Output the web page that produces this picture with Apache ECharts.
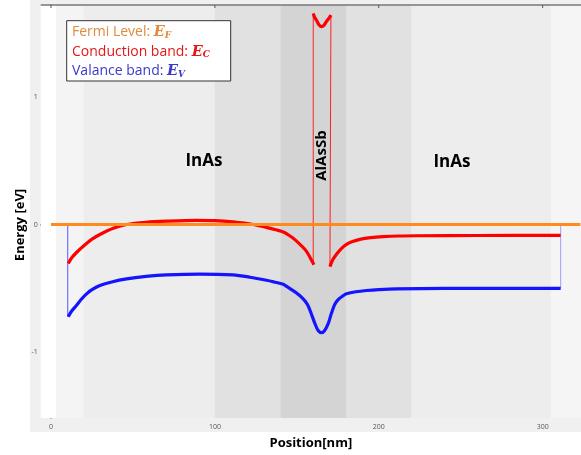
<!DOCTYPE html>
<html><head><meta charset="utf-8">
<script src="https://cdn.jsdelivr.net/npm/echarts@6/dist/echarts.min.js"></script>
<style>html,body{margin:0;padding:0;background:#fff}#c{width:581px;height:455px}</style>
</head><body><div id="c"></div>
<script>
// ---- data ----
const xTicks = [0, 100, 200, 300];
const yTicks = [-1, 0, 1];
const fermiX = [0, 323];
const fermiE = [0, 0];
const ecLeftX = [10.5, 13, 17.6, 22, 25, 29.8, 38, 46.1, 58, 70.5, 88.8, 100, 111, 123.4, 133, 141.7, 147, 151.9, 155, 157, 159, 160.4];
const ecLeftE = [-0.305, -0.255, -0.194, -0.145, -0.115, -0.078, -0.03, 0, 0.018, 0.026, 0.032, 0.03, 0.02, 0, -0.028, -0.058, -0.1, -0.155, -0.195, -0.233, -0.28, -0.315];
const ecBarrierX = [160, 161, 162, 163.5, 165.1, 166.5, 168, 169.5, 170.8];
const ecBarrierE = [1.654, 1.62, 1.6, 1.565, 1.55, 1.56, 1.59, 1.615, 1.641];
const ecRightX = [170.2, 172, 174.2, 177, 180.3, 184, 188.5, 195, 202.7, 212, 223, 260, 311];
const ecRightE = [-0.33, -0.275, -0.233, -0.19, -0.155, -0.133, -0.116, -0.103, -0.095, -0.09, -0.088, -0.086, -0.085];
const evX = [10.5, 12.5, 15.6, 18.5, 21.7, 25, 29.8, 37, 46.1, 58, 70.5, 90.9, 111, 121.4, 131.5, 136, 141.7, 144, 147, 150, 152.5, 155, 157, 159, 161, 163, 165.1, 167, 169.2, 171, 173.2, 175.5, 178, 180.3, 186, 192.5, 200, 210.8, 240, 311];
const evE = [-0.723, -0.68, -0.633, -0.585, -0.543, -0.51, -0.478, -0.45, -0.426, -0.407, -0.395, -0.388, -0.395, -0.413, -0.437, -0.45, -0.468, -0.487, -0.512, -0.538, -0.565, -0.6, -0.64, -0.705, -0.775, -0.83, -0.847, -0.83, -0.775, -0.7, -0.625, -0.585, -0.56, -0.543, -0.527, -0.517, -0.51, -0.504, -0.501, -0.5];
// thin jump connectors
const ecJumpL = [[160, -0.315], [160, 1.654]];
const ecJumpR = [[170.2, -0.33], [170.8, 1.641]];
const evJumpL = [[10.2, 0], [10.2, -0.723]];
const evJumpR = [[311, 0], [311, -0.5]];
// mesh / material regions [from, to, shade]
const regions = [
  [-6.3, 3, '#ffffff'],
  [3, 20, '#f4f4f4'],
  [20, 100, '#ededed'],
  [100, 140, '#e1e1e1'],
  [140, 180, '#d4d4d4'],
  [180, 220, '#e1e1e1'],
  [220, 305, '#ededed'],
  [305, 323.4, '#f5f5f5']
];
const regionLabels = [
  {name: 'InAs', x: 93.3, e: 0.494, rot: 0},
  {name: 'AlAsSb', x: 165.1, e: 0.54, rot: 90},
  {name: 'InAs', x: 244.6, e: 0.488, rot: 0}
];
const zip = (xs, ys) => xs.map((x, i) => [x, ys[i]]);

const chart = echarts.init(document.getElementById('c'), null, {renderer: 'canvas'});
const thin = (d, c, o) => ({type: 'line', data: d, symbol: 'none', lineStyle: {color: c, width: 1, opacity: o || 1}, z: 3, silent: true});
const thick = (d, c) => ({type: 'line', data: d, symbol: 'none', smooth: 0.3, lineStyle: {color: c, width: 3.2}, z: 4, silent: true});
const rs = (c, k) => {
  const base = {fill: c, lineHeight: 19.5};
  if (k === 't') return Object.assign(base, {fontSize: 14, fontFamily: 'Open Sans'});
  if (k === 'e') return Object.assign(base, {fontSize: 14.5, fontFamily: 'DejaVu Serif', fontStyle: 'italic', fontWeight: 'bold'});
  return Object.assign(base, {fontSize: 9, fontFamily: 'DejaVu Serif', fontStyle: 'italic', fontWeight: 'bold', padding: [6, 0, 0, 0]});
};

chart.setOption({
  animation: false,
  grid: {left: 40.7, right: 0, top: 5, bottom: 455 - 422.3, containLabel: false},
  graphic: [
    {type: 'rect', z: -10, silent: true, shape: {x: 30, y: 0, width: 551, height: 432}, style: {fill: '#f0f0f0'}},
    {type: 'rect', z: 100, shape: {x: 66.7, y: 20.7, width: 164, height: 60.3}, style: {fill: '#fff', stroke: '#333', lineWidth: 1}},
    {type: 'text', z: 101, left: 72, top: 25, style: {
      text: '{a|Fermi Level: }{e|E}{s|F}\n{b|Conduction band: }{eb|E}{sb|C}\n{c|Valance band: }{ec|E}{sc|V}',
      rich: {
        a: rs('#e08a3c', 't'), e: rs('#e08a3c', 'e'), s: rs('#e08a3c', 's'),
        b: rs('#e81515', 't'), eb: rs('#e81515', 'e'), sb: rs('#e81515', 's'),
        c: rs('#3a3ac8', 't'), ec: rs('#3a3ac8', 'e'), sc: rs('#3a3ac8', 's')
      }
    }},
    {type: 'text', z: 50, x: 20, y: 225, rotation: Math.PI / 2, style: {text: 'Energy [eV]', fill: '#000', fontSize: 13, fontWeight: 'bold', fontFamily: 'Open Sans', align: 'center', verticalAlign: 'middle'}}
  ],
  xAxis: {
    type: 'value', min: -6.3, max: 323.4,
    name: 'Position[nm]', nameLocation: 'middle', nameGap: 19,
    nameTextStyle: {fontSize: 13, fontWeight: 'bold', fontFamily: 'Open Sans', color: '#000'},
    axisLine: {show: true, lineStyle: {color: '#666', width: 1.5}},
    axisTick: {show: true, inside: true, length: 3, customValues: xTicks, lineStyle: {color: '#555'}},
    axisLabel: {customValues: xTicks, fontSize: 7, color: '#555', margin: 5, fontFamily: 'Open Sans'},
    splitLine: {show: false}
  },
  yAxis: {
    type: 'value', min: -1.516, max: 1.72,
    axisLine: {show: true, lineStyle: {color: '#666', width: 1.5}},
    axisTick: {show: true, inside: false, length: 2, customValues: yTicks, lineStyle: {color: '#555'}},
    axisLabel: {customValues: yTicks, fontSize: 7, color: '#555', margin: 3, fontFamily: 'Open Sans'},
    splitLine: {show: false}
  },
  series: [
    {type: 'line', data: zip(fermiX, fermiE), symbol: 'none', lineStyle: {color: '#ff8a1e', width: 3}, z: 5, silent: true,
     markArea: {silent: true, z: 1, data: regions.map(r => [{xAxis: r[0], itemStyle: {color: r[2]}}, {xAxis: r[1]}])}},
    thin(ecJumpL, '#ff2020'), thin(ecJumpR, '#ff2020'),
    thin(evJumpL, '#3030ff', 0.8), thin(evJumpR, '#6060ff', 0.6),
    thick(zip(ecLeftX, ecLeftE), '#ff0000'),
    thick(zip(ecBarrierX, ecBarrierE), '#ff0000'),
    thick(zip(ecRightX, ecRightE), '#ff0000'),
    thick(zip(evX, evE), '#1414ff'),
    {type: 'scatter', symbolSize: 1, itemStyle: {opacity: 0}, z: 6, silent: true,
     data: regionLabels.map(r => ({value: [r.x, r.e], label: {show: true, position: 'inside', formatter: r.name, rotate: r.rot,
       fontSize: r.rot ? 15 : 17, fontWeight: 'bold', fontFamily: 'Open Sans', color: '#000', opacity: 1, textBorderWidth: 0}}))}
  ]
});
// top frame line with mirrored ticks
const topY = chart.convertToPixel({gridIndex: 0}, [0, 1.72])[1];
const gr = [{type: 'line', z: 60, shape: {x1: 40.7, y1: topY, x2: 581, y2: topY}, style: {stroke: '#777', lineWidth: 1.5}}];
xTicks.forEach(t => { const px = chart.convertToPixel({gridIndex: 0}, [t, 0])[0];
  gr.push({type: 'line', z: 60, shape: {x1: px, y1: topY, x2: px, y2: topY + 3}, style: {stroke: '#555', lineWidth: 1}}); });
chart.setOption({graphic: chart.getOption().graphic[0].elements.concat(gr)});
</script></body></html>
